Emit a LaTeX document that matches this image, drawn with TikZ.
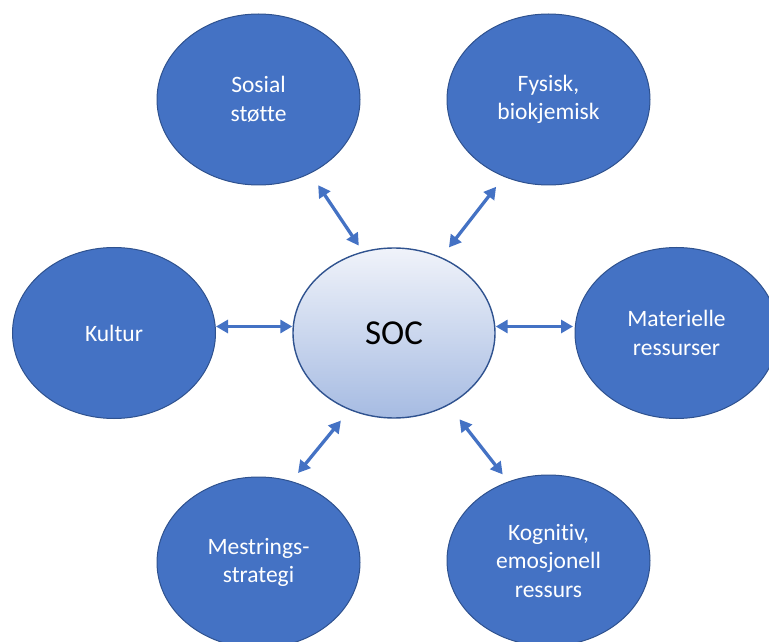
\documentclass[tikz,border=0pt]{standalone}
\usepackage{fontspec}
\setmainfont[Ligatures=NoCommon]{Carlito}
\usepackage{tikz}
\usetikzlibrary{arrows.meta,shapes.geometric}
\definecolor{factorblue}{HTML}{4472C4}
\definecolor{rimblue}{HTML}{2F528F}
\definecolor{soctop}{HTML}{F0F3FA}
\definecolor{socbottom}{HTML}{A6BBE2}

\begin{document}
\begin{tikzpicture}[x=1pt,y=1pt,
    factor/.style={ellipse,draw=rimblue,line width=1pt,fill=factorblue,text=white,
        minimum width=203pt,minimum height=171pt,inner sep=0pt,align=center,
        font=\fontsize{23.5}{28.5}\selectfont},
    link/.style={factorblue,line width=3.3pt,
        {Triangle[length=12pt,width=13pt]}-{Triangle[length=12pt,width=13pt]}}]
    \clip (0,0) rectangle (769,641);

    % Centre
    \node[ellipse,draw=rimblue,line width=1.4pt,top color=soctop,bottom color=socbottom,
        minimum width=202pt,minimum height=170pt,inner sep=0pt,
        font=\fontsize{35}{42}\selectfont] (soc) at (394,308) {SOC};

    % Factors round the centre
    \node[factor] (sosial) at (258.5,541.5) {Sosial\\støtte};
    \node[factor] (fysisk) at (548.5,541.5) {Fysisk,\\biokjemisk};
    \node[factor] (kultur) at (114,308) {Kultur};
    \node[factor] (materielle) at (676.5,308) {Materielle\\ressurser};
    \node[factor] (mestrings) at (258.5,78.5) {Mestrings-\\strategi};
    \node[factor] (kognitiv) at (548.5,80.5) {Kognitiv,\\emosjonell\\ressurs};

    % Double arrows to the centre
    \foreach \n/\a/\b/\sa/\sb in {sosial/-55.6/111.3/14/7,
                                  fysisk/-120.5/58.4/12.6/12.3,
                                  mestrings/68.2/-120.8/10.5/13.6,
                                  kognitiv/117.2/-53.3/9/17.8} {
        \draw[link,shorten <=\sa pt,shorten >=\sb pt] (\n.\a) -- (soc.\b);
    }
    \draw[link] ([yshift=6.5pt]kultur.east) -- ([yshift=6.5pt]soc.west);
    \draw[link,shorten >=1.5pt] ([yshift=6.5pt]soc.east) -- ([yshift=6.5pt]materielle.west);
\end{tikzpicture}
\end{document}
